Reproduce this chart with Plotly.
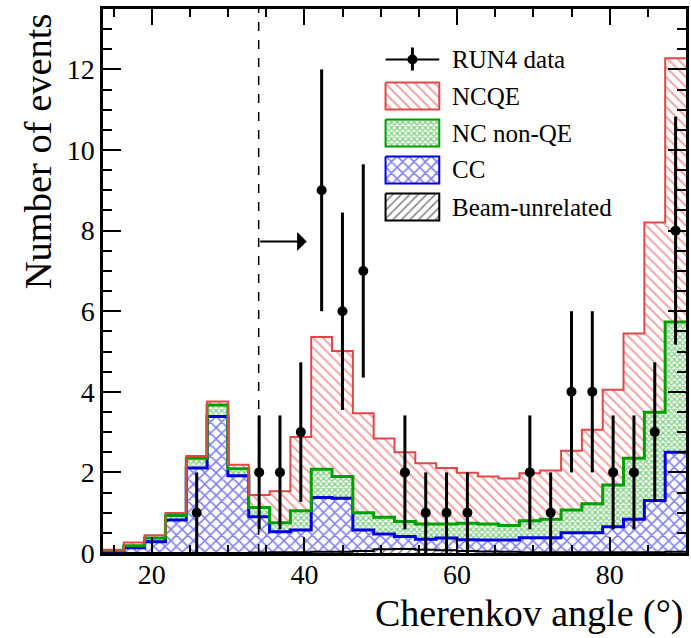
import numpy as np
import plotly.graph_objects as go

# ---- data ----
x_lo, x_hi, n_bins = 13.6, 90.0, 28
data_counts = [0, 0, 0, 0, 1, 0, 0, 2, 2, 3, 9, 6, 7, 0, 2, 1, 1, 1, 0, 0, 2, 1, 4, 4, 2, 2, 3, 8]
beam_unrelated = [0, 0, 0, 0, 0, 0, 0, 0.01, 0.02, 0.02, 0.03, 0.03, 0.05, 0.09, 0.10, 0.08, 0.07,
                  0.05, 0.04, 0.03, 0.02, 0.02, 0.02, 0.02, 0.02, 0.02, 0.02, 0.03]
cc = [0.05, 0.13, 0.28, 0.82, 2.11, 3.39, 1.92, 0.89, 0.51, 0.55, 1.35, 1.33, 0.52, 0.38, 0.31, 0.26,
      0.30, 0.28, 0.28, 0.29, 0.36, 0.36, 0.48, 0.48, 0.63, 0.82, 1.28, 2.47]
nc_nonqe = [0.01, 0.05, 0.09, 0.11, 0.24, 0.28, 0.17, 0.23, 0.22, 0.48, 0.70, 0.54, 0.43, 0.42, 0.37,
            0.38, 0.35, 0.41, 0.40, 0.36, 0.42, 0.46, 0.57, 0.72, 1.04, 1.51, 2.19, 3.23]
ncqe = [0.02, 0.08, 0.07, 0.06, 0.06, 0.09, 0.10, 0.31, 0.78, 1.83, 3.28, 3.11, 2.47, 1.95, 1.72, 1.51,
        1.39, 1.25, 1.18, 1.17, 1.18, 1.21, 1.47, 1.84, 2.36, 3.10, 4.71, 6.55]
legend_labels = ["RUN4 data", "NCQE", "NC non-QE", "CC", "Beam-unrelated"]
cut_angle = 34.0
arrow_y = 7.73
arrow_end = 40.3
y_max = 13.5

edges = np.linspace(x_lo, x_hi, n_bins + 1)
centers = 0.5 * (edges[:-1] + edges[1:])

FONT = "Liberation Serif, Times New Roman, serif"
W, H = 691, 638
ML, MR, MT, MB = 103, 2, 9, 85
PW, PH = W - ML - MR, H - MT - MB


def pu(px):
    return (px - ML) / PW


def pv(py):
    return (H - MB - py) / PH


fig = go.Figure()

styles = {
    "Beam-unrelated": dict(lc="black", shape="/", size=6, sol=0.25, lw=2),
    "CC": dict(lc="#0000e0", shape="x", size=8, sol=0.35, lw=3),
    "NC non-QE": dict(lc="#00a000", shape="x", size=4, sol=0.55, lw=3),
    "NCQE": dict(lc="#e04848", shape="\\", size=7, sol=0.28, lw=2),
}
stack = np.zeros(n_bins)
for i, (name, vals) in enumerate([("Beam-unrelated", beam_unrelated), ("CC", cc),
                                  ("NC non-QE", nc_nonqe), ("NCQE", ncqe)]):
    s = styles[name]
    stack = stack + np.array(vals)
    yy = np.append(stack, stack[-1])
    fig.add_trace(go.Scatter(
        x=edges, y=yy, mode="lines", line=dict(shape="hv", color=s["lc"], width=s["lw"]),
        fill="tozeroy" if i == 0 else "tonexty", fillcolor="white",
        fillpattern=dict(shape=s["shape"], fgcolor=s["lc"], bgcolor="white", size=s["size"],
                         solidity=s["sol"]),
        name=name, showlegend=False, hoverinfo="skip",
    ))

counts = np.array(data_counts, dtype=float)
mask = counts > 0
fig.add_trace(go.Scatter(
    x=centers[mask], y=counts[mask], mode="markers",
    marker=dict(color="black", size=10),
    error_y=dict(type="data", array=np.sqrt(counts[mask]), color="black", thickness=3, width=0),
    showlegend=False, name="RUN4 data",
))

# ---- custom legend (paper-coordinate overlay axes) ----
key_x0, key_x1, key_h = 387, 441, 27
row_y = [59.5, 96, 133, 170, 207]
text_x = 452
xm = 0.5 * (key_x0 + key_x1)
fig.add_trace(go.Scatter(x=[pu(key_x0), pu(key_x1)], y=[pv(row_y[0])] * 2, mode="lines",
                         line=dict(color="black", width=2), xaxis="x2", yaxis="y2",
                         showlegend=False, hoverinfo="skip"))
fig.add_trace(go.Scatter(x=[pu(xm), pu(xm)], y=[pv(row_y[0] - 12), pv(row_y[0] + 11)], mode="lines",
                         line=dict(color="black", width=3), xaxis="x2", yaxis="y2",
                         showlegend=False, hoverinfo="skip"))
fig.add_trace(go.Scatter(x=[pu(xm)], y=[pv(row_y[0])], mode="markers",
                         marker=dict(color="black", size=10), xaxis="x2", yaxis="y2",
                         showlegend=False, hoverinfo="skip"))
for name, ry in zip(legend_labels[1:], row_y[1:]):
    s = styles[name]
    y0, y1 = pv(ry - key_h / 2), pv(ry + key_h / 2)
    fig.add_trace(go.Scatter(
        x=[pu(key_x0), pu(key_x1), pu(key_x1), pu(key_x0), pu(key_x0)],
        y=[y0, y0, y1, y1, y0], mode="lines", fill="toself", fillcolor="white",
        line=dict(color=s["lc"], width=2),
        fillpattern=dict(shape=s["shape"], fgcolor=s["lc"], bgcolor="white", size=s["size"],
                         solidity=s["sol"]),
        xaxis="x2", yaxis="y2", showlegend=False, hoverinfo="skip"))
for lab, ry in zip(legend_labels, row_y):
    fig.add_annotation(text=lab, xref="paper", yref="paper", x=pu(text_x), y=pv(ry),
                       xanchor="left", yanchor="middle", showarrow=False,
                       font=dict(family=FONT, size=25, color="black"))

fig.add_shape(type="line", x0=cut_angle, x1=cut_angle, y0=0, y1=y_max, xref="x", yref="y",
              line=dict(color="black", width=1.5, dash="dash"))
fig.add_annotation(x=arrow_end, y=arrow_y, ax=cut_angle, ay=arrow_y, xref="x", yref="y",
                   axref="x", ayref="y", showarrow=True, arrowhead=1, arrowsize=1.6,
                   arrowwidth=2, arrowcolor="black", text="")

fig.add_annotation(text="Cherenkov angle (°)", xref="paper", yref="paper", x=1.0, y=pv(613),
                   xanchor="right", yanchor="middle", showarrow=False,
                   font=dict(family=FONT, size=38, color="black"))
fig.add_annotation(text="Number of events", xref="paper", yref="paper", x=pu(38), y=pv(11),
                   xanchor="center", yanchor="top", textangle=-90, showarrow=False,
                   font=dict(family=FONT, size=38.5, color="black"))

axis_common = dict(showgrid=False, zeroline=False, showline=True, linecolor="black", linewidth=2.5,
                   mirror="allticks", ticks="inside", tickcolor="black", tickwidth=1.5,
                   tickfont=dict(family=FONT, size=28, color="black"))
fig.update_xaxes(range=[x_lo, x_hi], tick0=0, dtick=20, ticklen=16, ticklabelstandoff=-5,
                 minor=dict(dtick=5, tick0=0, ticklen=8, ticks="inside", tickcolor="black", tickwidth=1.5),
                 **axis_common)
fig.update_yaxes(range=[0, y_max], tick0=0, dtick=2, ticklen=18,
                 minor=dict(dtick=0.5, tick0=0, ticklen=9, ticks="inside", tickcolor="black", tickwidth=1.5),
                 **axis_common)

fig.update_layout(
    width=W, height=H, margin=dict(l=ML, r=MR, t=MT, b=MB),
    plot_bgcolor="white", paper_bgcolor="white",
    font=dict(family=FONT, size=25, color="black"),
    showlegend=False,
    xaxis2=dict(overlaying="x", range=[0, 1], visible=False, fixedrange=True),
    yaxis2=dict(overlaying="y", range=[0, 1], visible=False, fixedrange=True),
)
fig.write_html("out.html")
